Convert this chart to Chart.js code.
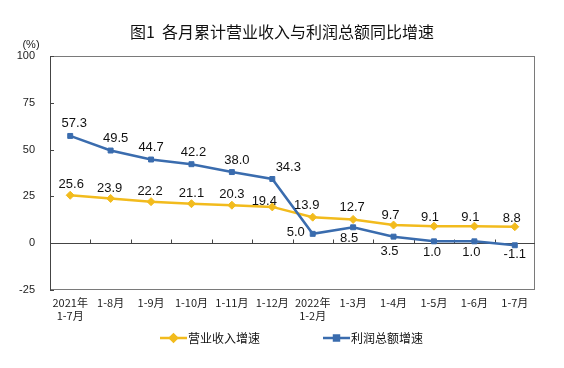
<!DOCTYPE html>
<html>
<head>
<meta charset="utf-8">
<script src="https://cdn.jsdelivr.net/npm/chart.js@4.4.1/dist/chart.umd.min.js"></script>
<style>
  html, body { margin: 0; padding: 0; background: #fff; }
  #wrap { width: 564px; height: 368px; }
</style>
</head>
<body>
<div id="wrap"><canvas id="chart" width="564" height="368"></canvas></div>
<script>
const months = [["2021年", "1-7月"], "1-8月", "1-9月", "1-10月", "1-11月", "1-12月",
    ["2022年", "1-2月"], "1-3月", "1-4月", "1-5月", "1-6月", "1-7月"];
const revenueGrowth = [25.6, 23.9, 22.2, 21.1, 20.3, 19.4, 13.9, 12.7, 9.7, 9.1, 9.1, 8.8];
const profitGrowth = [57.3, 49.5, 44.7, 42.2, 38.0, 34.3, 5.0, 8.5, 3.5, 1.0, 1.0, -1.1];
const yTicks = [-25, 0, 25, 50, 75, 100];
const seriesNames = ["营业收入增速", "利润总额增速"];

// where each value label sits relative to its point (dx, dy in px)
const revenueLabelShift = [[1, -11], [-1, -10], [-1, -10], [0, -10], [0, -11], [-8, -5],
    [-6, -12], [-1, -12], [-3, -10], [-4, -9], [-4, -9], [-3, -8]];
const profitLabelShift = [[4, -13], [5, -12], [0, -12], [2, -12], [5, -12], [16, -12],
    [-17, -1], [-4, 11], [-4, 15], [-2, 11], [-3, 11], [0, 9]];

const YELLOW = "#F2BB1D";
const BLUE = "#3A6CAE";
const CJK = "'Noto Sans CJK SC', sans-serif";
const LATIN = "'Liberation Sans', Arial, sans-serif";

const framePlugin = {
    id: "frame",
    beforeDatasetsDraw(chart) {
        const { ctx, chartArea: a, scales: { x, y } } = chart;
        ctx.save();
        ctx.lineWidth = 1;
        ctx.strokeStyle = "#7a7a7a";
        ctx.strokeRect(a.left + 0.5, a.top + 0.5, a.right - a.left - 1, a.bottom - a.top - 1);

        ctx.strokeStyle = "#444";
        ctx.beginPath();
        ctx.moveTo(a.left + 0.5, a.top);
        ctx.lineTo(a.left + 0.5, a.bottom);
        const zero = Math.round(y.getPixelForValue(0)) + 0.5;
        ctx.moveTo(a.left, zero);
        ctx.lineTo(a.right, zero);
        for (const v of yTicks) {
            const py = Math.round(y.getPixelForValue(v)) + 0.5;
            ctx.moveTo(a.left, py);
            ctx.lineTo(a.left + 4, py);
        }
        for (let i = 1; i < months.length; i++) {
            const px = Math.round((x.getPixelForValue(i - 1) + x.getPixelForValue(i)) / 2) + 0.5;
            ctx.moveTo(px, zero);
            ctx.lineTo(px, zero - 4);
        }
        ctx.stroke();

        ctx.fillStyle = "#222";
        ctx.font = "11px " + LATIN;
        ctx.textAlign = "center";
        ctx.textBaseline = "middle";
        ctx.fillText("(%)", 31, 45);
        ctx.restore();
    },
    afterDatasetsDraw(chart) {
        const { ctx } = chart;
        const shifts = [revenueLabelShift, profitLabelShift];
        ctx.save();
        ctx.fillStyle = "#111";
        ctx.font = "13px " + LATIN;
        ctx.textAlign = "center";
        ctx.textBaseline = "middle";
        chart.data.datasets.forEach((ds, di) => {
            chart.getDatasetMeta(di).data.forEach((pt, i) => {
                const [dx, dy] = shifts[di][i];
                ctx.fillText(ds.data[i].toFixed(1), pt.x + dx, pt.y + dy);
            });
        });
        ctx.restore();
    },
    afterDraw(chart) {
        const { ctx } = chart;
        const items = [
            { color: YELLOW, style: "rectRot", x: 160 },
            { color: BLUE, style: "rect", x: 323 },
        ];
        const ly = 338;
        ctx.save();
        items.forEach((it, i) => {
            ctx.strokeStyle = it.color;
            ctx.lineWidth = 2.5;
            ctx.beginPath();
            ctx.moveTo(it.x, ly);
            ctx.lineTo(it.x + 27, ly);
            ctx.stroke();
            Chart.helpers.drawPoint(ctx, {
                pointStyle: it.style, radius: 3.5, borderWidth: 1, rotation: 0,
            }, it.x + 13.5, ly);
            ctx.fillStyle = it.color;
            ctx.fill();
            ctx.fillStyle = "#111";
            ctx.font = "12px " + CJK;
            ctx.textAlign = "left";
            ctx.textBaseline = "middle";
            ctx.fillText(seriesNames[i], it.x + 28, ly);
        });
        ctx.restore();
    },
};

new Chart(document.getElementById("chart"), {
    type: "line",
    data: {
        labels: months,
        datasets: [
            {
                label: seriesNames[0],
                data: revenueGrowth,
                borderColor: YELLOW,
                backgroundColor: YELLOW,
                borderWidth: 2.5,
                pointStyle: "rectRot",
                pointRadius: 4,
                pointBorderWidth: 1,
                order: 1,
            },
            {
                label: seriesNames[1],
                data: profitGrowth,
                borderColor: BLUE,
                backgroundColor: BLUE,
                borderWidth: 2.5,
                pointStyle: "rect",
                pointRadius: 3.5,
                pointBorderWidth: 1,
                order: 0,
            },
        ],
    },
    options: {
        responsive: false,
        animation: false,
        layout: { padding: { left: 0, right: 0, top: 0, bottom: 43 } },
        plugins: {
            legend: { display: false },
            tooltip: { enabled: false },
            title: {
                display: true,
                text: "图1  各月累计营业收入与利润总额同比增速",
                color: "#111",
                font: { family: CJK, size: 16, weight: "normal", lineHeight: 1.2 },
                padding: { top: 22, bottom: 14.8 },
            },
        },
        scales: {
            x: {
                offset: true,
                grid: { display: false, drawTicks: false },
                border: { display: false },
                ticks: {
                    color: "#222",
                    font: { family: CJK, size: 11, lineHeight: 1.2 },
                    padding: 6,
                    maxRotation: 0,
                    autoSkip: false,
                },
                afterFit: (s) => { s.height = 35; },
            },
            y: {
                min: -25,
                max: 100,
                grid: { display: false, drawTicks: false },
                border: { display: false },
                afterBuildTicks: (s) => { s.ticks = yTicks.map((v) => ({ value: v })); },
                ticks: {
                    color: "#222",
                    font: { family: LATIN, size: 11 },
                    padding: 15,
                },
                afterFit: (s) => { s.width = 50; },
            },
            // empty right-hand margin so the plot ends where the original does
            yRight: {
                position: "right",
                min: -25,
                max: 100,
                grid: { display: false, drawTicks: false },
                border: { display: false },
                ticks: { display: false },
                afterFit: (s) => { s.width = 29; },
            },
        },
    },
    plugins: [framePlugin],
});
</script>
</body>
</html>
